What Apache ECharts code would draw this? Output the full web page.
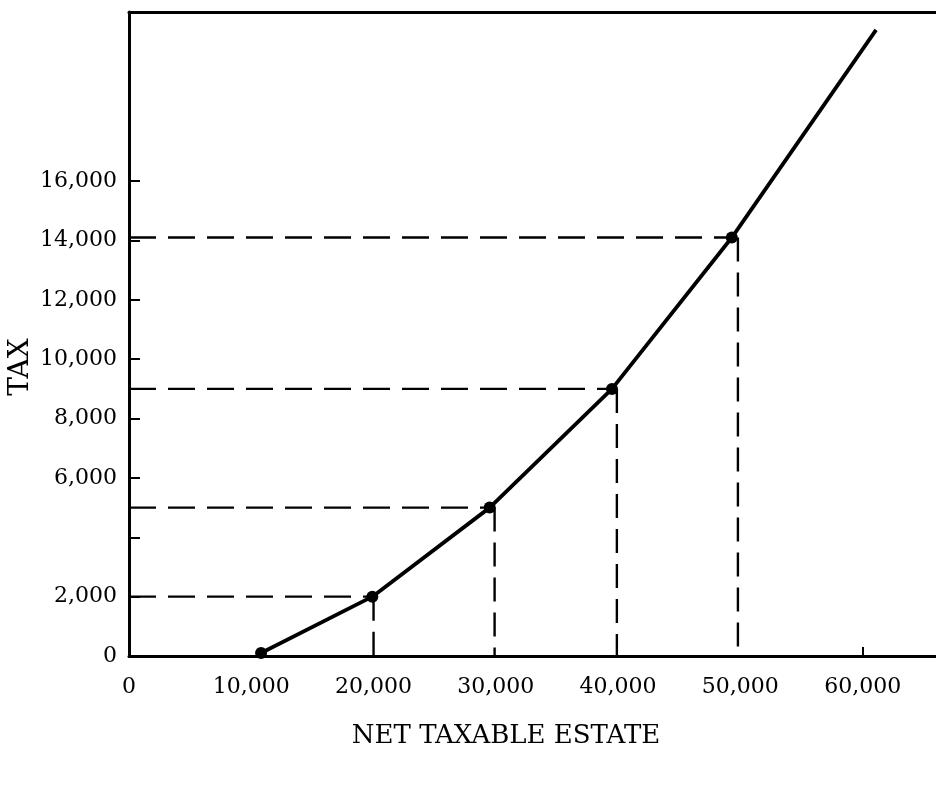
<!DOCTYPE html>
<html>
<head>
<meta charset="utf-8">
<script src="https://cdn.jsdelivr.net/npm/echarts@6/dist/echarts.min.js"></script>
<style>
  html, body { margin: 0; padding: 0; background: #fff; }
  #chart { width: 936px; height: 786px; }
</style>
</head>
<body>
<div id="chart"></div>
<script>
// points on the tax curve (net taxable estate -> tax)
const estate = [10800, 19900, 29500, 39500, 49300, 61100]
const tax = [100, 2000, 5000, 9000, 14100, 21100]
// where the dashed drop lines meet the estate axis (points 1..4)
const dropEstate = [20000, 29900, 39900, 49800]
const xLabels = [0, 10000, 20000, 30000, 40000, 50000, 60000]
const xTicks = [60000]
const yLabels = [0, 2000, 6000, 8000, 10000, 12000, 14000, 16000]
const yTicks = [2000, 4000, 6000, 8000, 10000, 12000, 14000, 16000]

const FONT = 'DejaVu Serif'
const INK = '#000'
const fmt = v => Number(v).toLocaleString('en-US')

const guides = []
dropEstate.forEach((x, k) => {
  const i = k + 1
  guides.push({
    type: 'line', silent: true, symbol: 'none', z: 1,
    lineStyle: { color: INK, width: 2.4, type: [27, 12] },
    data: [[0, tax[i]], [estate[i], tax[i]]]
  })
  guides.push({
    type: 'line', silent: true, symbol: 'none', z: 1,
    lineStyle: { color: INK, width: 2.4, type: [24, 11] },
    data: [[x, tax[i]], [x, 0]]
  })
})

const chart = echarts.init(document.getElementById('chart'))
chart.setOption({
  animation: false,
  backgroundColor: '#fff',
  grid: { left: 129, right: 0, top: 12, bottom: 130 },
  xAxis: [{
    type: 'value', min: 0, max: 66000,
    splitLine: { show: false },
    axisLine: { lineStyle: { color: INK, width: 3 } },
    axisTick: { show: true, inside: true, length: 9, customValues: xTicks, lineStyle: { color: INK, width: 2 } },
    axisLabel: {
      customValues: xLabels, formatter: fmt, margin: 20,
      fontFamily: FONT, fontSize: 22, color: INK
    }
  }, {
    type: 'value', min: 0, max: 66000, position: 'top',
    splitLine: { show: false },
    axisLine: { show: true, lineStyle: { color: INK, width: 3 } },
    axisTick: { show: false }, axisLabel: { show: false }
  }],
  yAxis: {
    type: 'value', min: 0, max: 21700,
    splitLine: { show: false },
    axisLine: { show: true, lineStyle: { color: INK, width: 3 } },
    axisTick: { show: true, inside: true, length: 11, customValues: yTicks, lineStyle: { color: INK, width: 2 } },
    axisLabel: {
      customValues: yLabels, formatter: fmt, margin: 12,
      fontFamily: FONT, fontSize: 22, color: INK
    }
  },
  graphic: [
    {
      type: 'text', x: 506, y: 736,
      style: {
        text: 'NET TAXABLE ESTATE', fontFamily: FONT, fontSize: 26,
        fill: INK, textAlign: 'center', textVerticalAlign: 'middle'
      }
    },
    {
      type: 'text', x: 21, y: 367, rotation: Math.PI / 2,
      style: {
        text: 'TAX', fontFamily: FONT, fontSize: 28,
        fill: INK, textAlign: 'center', textVerticalAlign: 'middle'
      }
    }
  ],
  series: guides.concat([{
    type: 'line', z: 3,
    symbol: 'circle', symbolSize: 12,
    itemStyle: { color: INK },
    lineStyle: { color: INK, width: 3.8 },
    data: estate.map((x, i) => i === estate.length - 1
      ? { value: [x, tax[i]], symbol: 'none' }
      : [x, tax[i]])
  }])
})
</script>
</body>
</html>
